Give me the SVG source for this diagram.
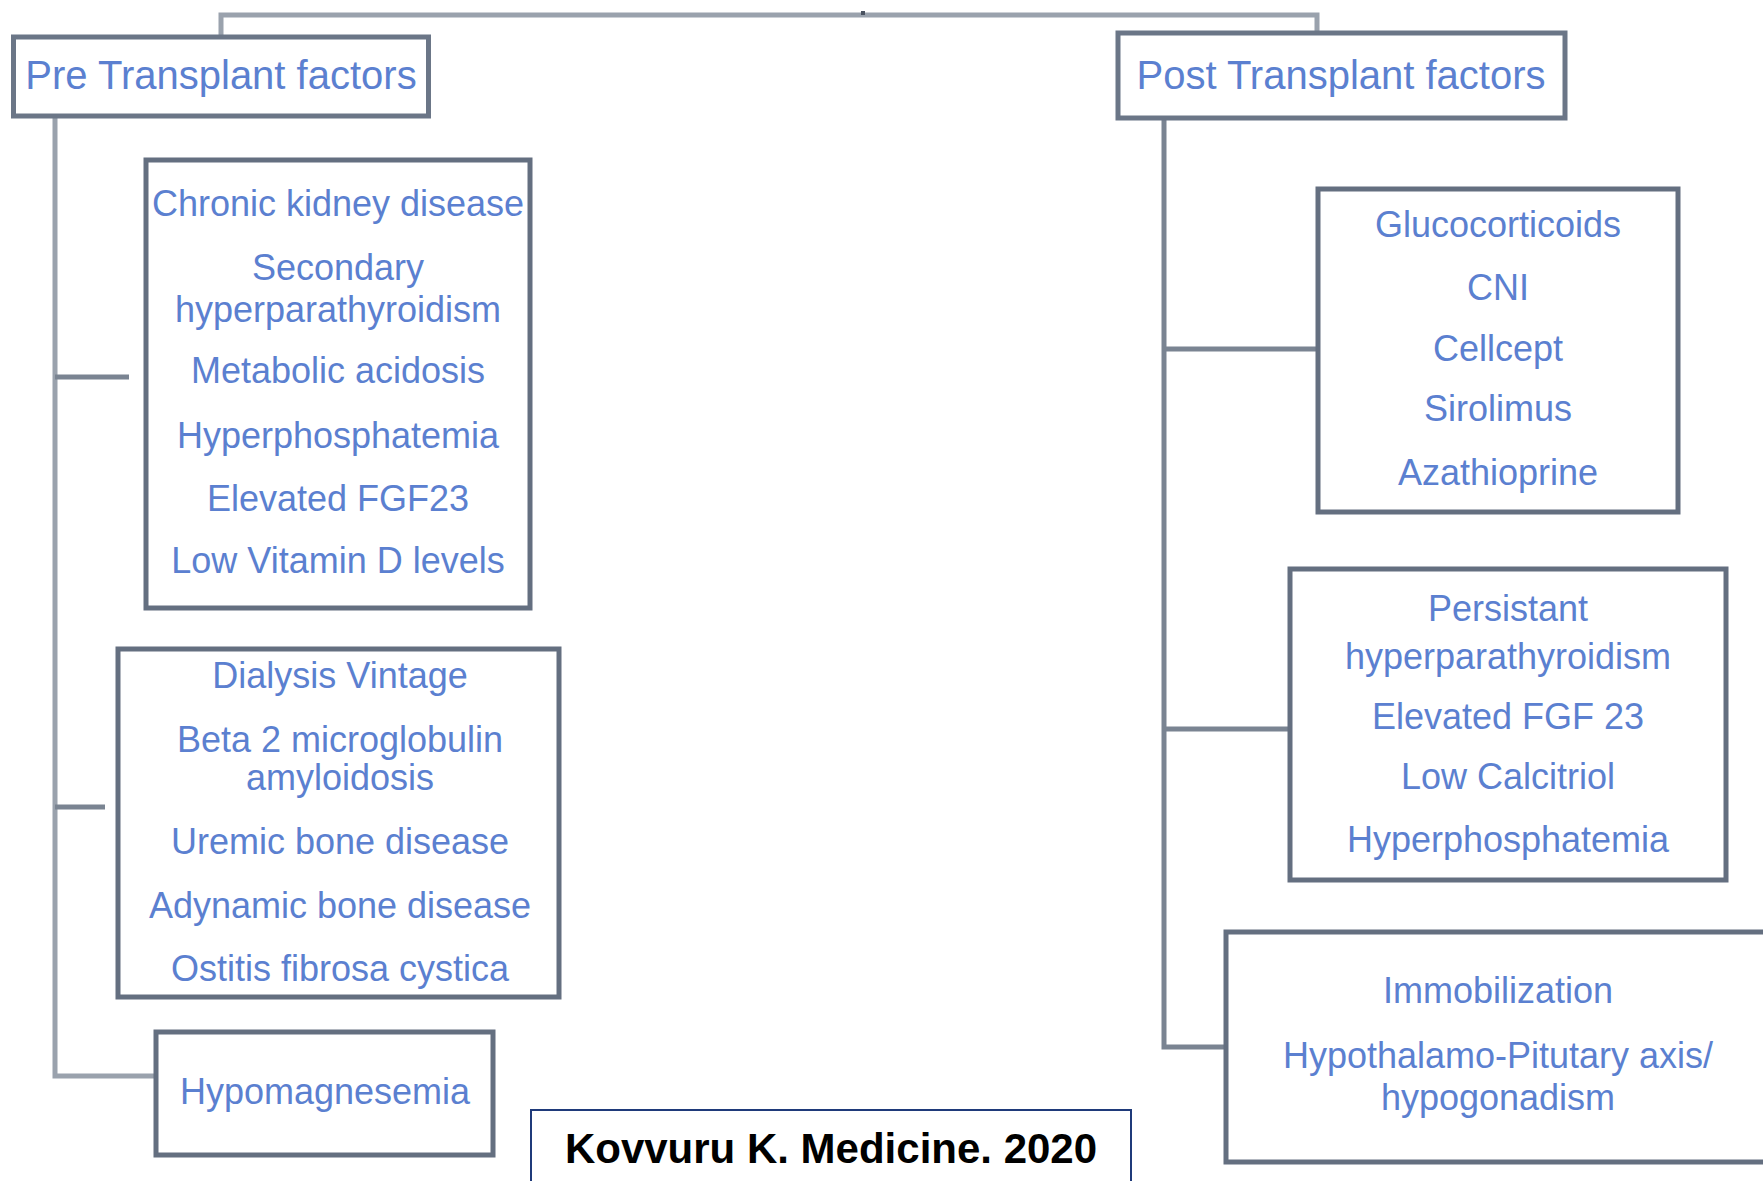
<svg xmlns="http://www.w3.org/2000/svg" width="1763" height="1181" viewBox="0 0 1763 1181">
<style>
.box{fill:#ffffff;stroke:#646f80;stroke-width:5}
.hdr{fill:#ffffff;stroke:#6b7687;stroke-width:5}
.t{font-family:"Liberation Sans",Arial,sans-serif;font-size:36px;fill:#5b80d0;text-anchor:middle}
.th{font-family:"Liberation Sans",Arial,sans-serif;font-size:40px;fill:#5b80d0;text-anchor:middle}
.ln{fill:none;stroke:#9aa2ad;stroke-width:5}
.lnd{fill:none;stroke:#7a8492;stroke-width:5}
.cite{fill:#ffffff;stroke:#1f3a7a;stroke-width:2}
.ct{font-family:"Liberation Sans",Arial,sans-serif;font-size:42px;font-weight:bold;fill:#000000;text-anchor:middle}
</style>
<rect width="1763" height="1181" fill="#ffffff"/>
<g id="connectors">
<path class="ln" d="M221,37 V15 H1317 V33"/>
<rect x="861" y="11" width="4" height="4" fill="#4a5260"/>
<path class="ln" d="M55,116 V1076 H156"/>
<path class="lnd" d="M55,377 H129"/>
<path class="lnd" d="M55,807 H105"/>
<path class="lnd" d="M1164,118 V1047 H1226"/>
<path class="lnd" d="M1164,349 H1318"/>
<path class="lnd" d="M1164,729 H1290"/>
</g>
<g id="pre">
<rect class="hdr" x="13.5" y="37" width="415" height="79"/>
<text class="th" x="221" y="89">Pre Transplant factors</text>
</g>
<g id="post">
<rect class="hdr" x="1118" y="33" width="447" height="85"/>
<text class="th" x="1341" y="89">Post Transplant factors</text>
</g>
<g id="ckd">
<rect class="box" x="146" y="160" width="384" height="448"/>
<text class="t" x="338" y="216">Chronic kidney disease</text>
<text class="t" x="338" y="280">Secondary</text>
<text class="t" x="338" y="322">hyperparathyroidism</text>
<text class="t" x="338" y="383">Metabolic acidosis</text>
<text class="t" x="338" y="448">Hyperphosphatemia</text>
<text class="t" x="338" y="511">Elevated FGF23</text>
<text class="t" x="338" y="573">Low Vitamin D levels</text>
</g>
<g id="dialysis">
<rect class="box" x="118" y="649" width="441" height="348"/>
<text class="t" x="340" y="688">Dialysis Vintage</text>
<text class="t" x="340" y="752">Beta 2 microglobulin</text>
<text class="t" x="340" y="790">amyloidosis</text>
<text class="t" x="340" y="854">Uremic bone disease</text>
<text class="t" x="340" y="918">Adynamic bone disease</text>
<text class="t" x="340" y="981">Ostitis fibrosa cystica</text>
</g>
<g id="hypomag">
<rect class="box" x="156" y="1032" width="337" height="123"/>
<text class="t" x="325" y="1104">Hypomagnesemia</text>
</g>
<g id="citation">
<rect class="cite" x="531" y="1110" width="600" height="90"/>
<text class="ct" x="831" y="1163">Kovvuru K. Medicine. 2020</text>
</g>
<g id="drugs">
<rect class="box" x="1318" y="189" width="360" height="323"/>
<text class="t" x="1498" y="237">Glucocorticoids</text>
<text class="t" x="1498" y="300">CNI</text>
<text class="t" x="1498" y="361">Cellcept</text>
<text class="t" x="1498" y="421">Sirolimus</text>
<text class="t" x="1498" y="485">Azathioprine</text>
</g>
<g id="persistent">
<rect class="box" x="1290" y="569" width="436" height="311"/>
<text class="t" x="1508" y="621">Persistant</text>
<text class="t" x="1508" y="669">hyperparathyroidism</text>
<text class="t" x="1508" y="729">Elevated FGF 23</text>
<text class="t" x="1508" y="789">Low Calcitriol</text>
<text class="t" x="1508" y="852">Hyperphosphatemia</text>
</g>
<g id="immobilization">
<rect class="box" x="1226" y="932" width="560" height="230"/>
<text class="t" x="1498" y="1003">Immobilization</text>
<text class="t" x="1498" y="1068">Hypothalamo-Pitutary axis/</text>
<text class="t" x="1498" y="1110">hypogonadism</text>
</g>
</svg>
